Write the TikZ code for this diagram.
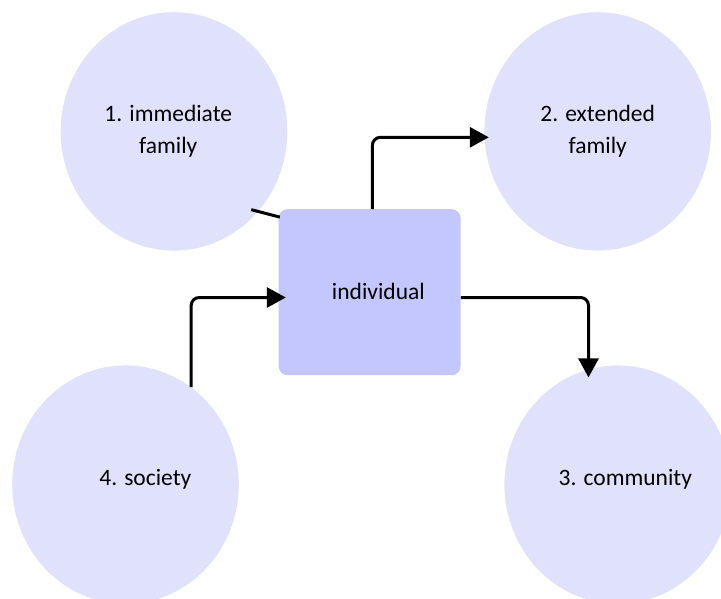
\documentclass[tikz,border=0pt]{standalone}
\usepackage{fontspec}
\setmainfont{Carlito}
\usetikzlibrary{arrows.meta,shapes.geometric}
\definecolor{circfill}{RGB}{224,226,252}
\definecolor{boxfill}{RGB}{195,199,253}
\tikzset{
  circ/.style={ellipse, fill=circfill, draw=none, minimum width=226.6pt, minimum height=238.4pt, inner sep=0pt},
  boxnode/.style={rectangle, rounded corners=9pt, fill=boxfill, draw=none, minimum width=182pt, minimum height=166pt, inner sep=0pt},
  lbl/.style={font=\fontsize{23.5}{32}\selectfont, align=center, inner sep=0pt, text=black},
  conn/.style={line width=3pt, black, rounded corners=8pt},
  arr/.style={conn, -{Triangle[length=19pt,width=20pt]}}
}
\begin{document}
\begin{tikzpicture}[x=1pt,y=-1pt]
\useasboundingbox (0,0) rectangle (721,598);
\clip (0,0) rectangle (721,598);
\fill[white] (0,0) rectangle (721,598);
% shapes
\node[circ] (c1) at (174,131.4) {};
\node[circ] (c2) at (597.7,131.4) {};
\node[circ] (c3) at (617.7,484.6) {};
\node[circ] (c4) at (125.5,484.6) {};
\node[boxnode] (box) at (369.6,292.2) {};
% labels
\node[lbl] (t1) at (168.3,131) {1. immediate\\family};
\node[lbl] (t2) at (597.7,131) {2. extended\\family};
\node[lbl] (t3) at (625.3,479) {3. community};
\node[lbl] (t4) at (145.3,479) {4. society};
\node[lbl] (tb) at (378.4,291) {individual};
% connectors
\draw[conn, line cap=butt] ([xshift=-5pt,yshift=4pt]c1.-45) -- ([xshift=1.4pt,yshift=-8.1pt]box.north west);
\draw[arr] ([xshift=2.8pt]box.north) |- ([xshift=4.6pt,yshift=-5.9pt]c2.west);
\draw[arr] ([yshift=-5.3pt]box.east) -| ([xshift=-29.2pt,yshift=-12.2pt]c3.north);
\draw[arr] (c4.56.4) |- ([xshift=7.4pt,yshift=-5.3pt]box.west);
\end{tikzpicture}
\end{document}
